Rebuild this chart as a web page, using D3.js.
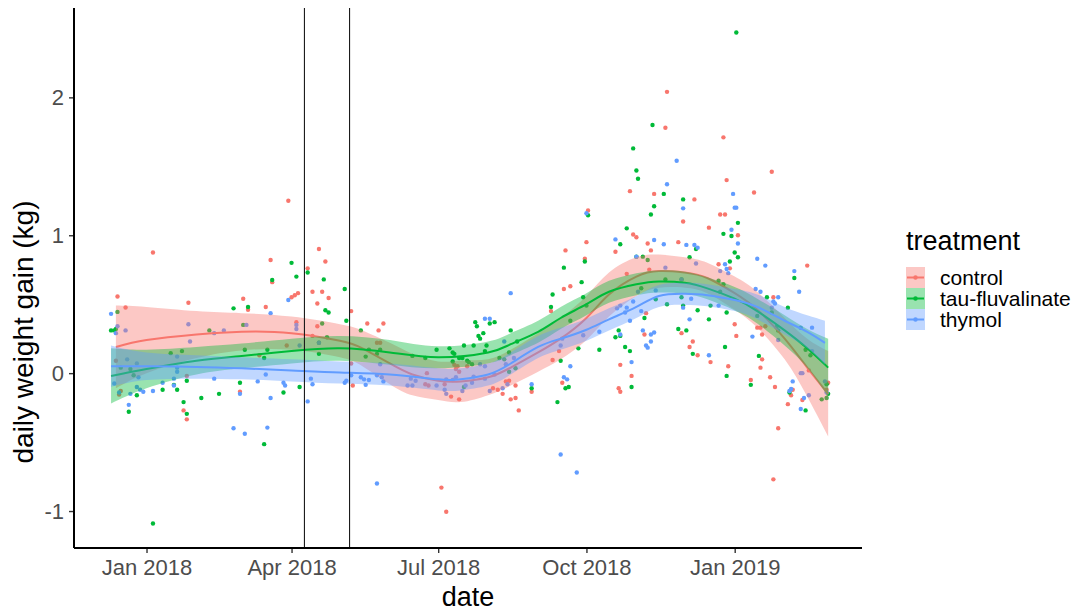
<!DOCTYPE html>
<html>
<head>
<meta charset="utf-8">
<script src="https://cdn.jsdelivr.net/npm/d3@7"></script>
<style>
body { margin: 0; background: #fff; }
text { font-family: "Liberation Sans", Arial, sans-serif; }
</style>
</head>
<body>
<div id="chart"></div>
<script>
// treatments and their ggplot hues
var treatments = ["control", "tau-fluvalinate", "thymol"];
var colors = ["#F8766D", "#00BA38", "#619CFF"];

var tickDates = ["2018-01-01", "2018-04-01", "2018-07-01", "2018-10-01", "2019-01-01"];
var yTicks = [-1, 0, 1, 2];
var vlineDates = ["2018-04-09", "2018-05-07"];

// daily weight gain points [date, kg]
var controlPts = [
["2017-12-14",0.556],["2017-12-19",0.476],["2017-12-13",0.09],["2017-12-15",-0.155],["2017-12-16",-0.13],
["2018-01-05",0.875],["2018-01-27",0.51],["2018-01-26",-0.02],["2018-01-24",-0.27],["2018-01-26",-0.335],
["2018-03-02",0.54],["2018-03-05",0.46],["2018-03-19",0.82],["2018-03-20",0.66],["2018-03-16",0.48],
["2018-04-01",0.55],["2018-04-03",0.565],["2018-04-05",0.58],["2018-03-12",0.13],["2018-03-29",0.2],
["2018-02-28",-0.135],["2018-04-04",0.37],["2018-03-30",1.25],["2018-04-18",0.9],["2018-04-22",0.81],
["2018-04-11",0.76],["2018-04-14",0.59],["2018-04-20",0.59],["2018-04-24",0.545],["2018-04-17",0.505],
["2018-05-08",0.45],["2018-05-18",0.36],["2018-05-28",0.36],["2018-05-25",0.31],["2018-04-17",0.34],
["2018-04-14",0.27],["2018-05-09",-0.09],["2018-05-08",0.07],["2018-05-24",0.22],["2018-05-26",0.22],
["2018-06-24",0.0],["2018-06-23",-0.08],["2018-06-25",-0.09],["2018-07-09",-0.17],["2018-07-14",-0.19],
["2018-07-05",-0.08],["2018-07-12",0.03],["2018-07-14",0.01],["2018-07-11",0.06],["2018-07-13",0.05],
["2018-07-19",0.05],["2018-08-04",-0.11],["2018-08-07",-0.12],["2018-07-03",-0.83],["2018-07-06",-1.005],
["2018-08-15",-0.19],["2018-08-20",-0.27],["2018-10-02",1.18],["2018-10-01",0.95],["2018-10-30",1.005],
["2018-11-01",0.985],["2018-10-19",0.88],["2018-11-08",0.94],["2018-11-10",0.89],["2018-11-27",0.95],
["2018-09-18",0.89],["2018-09-30",0.83],["2018-09-17",0.61],["2018-09-21",0.63],["2018-09-09",0.45],
["2018-11-09",0.75],["2018-10-26",0.72],["2018-11-07",0.435],["2018-11-06",0.28],["2018-09-14",0.16],
["2018-09-10",0.095],["2018-09-16",-0.07],["2018-10-22",0.06],["2018-10-29",-0.02],["2018-10-21",-0.11],
["2018-10-22",-0.135],["2018-08-28",-0.135],["2018-08-18",-0.09],["2018-08-18",-0.18],["2018-08-10",-0.15],
["2018-08-12",-0.06],["2018-08-14",-0.055],["2018-11-20",2.04],["2018-11-19",1.78],["2018-12-25",1.71],
["2019-01-24",1.46],["2018-12-27",1.40],["2018-10-28",1.32],["2018-11-12",1.30],["2019-01-13",1.31],
["2018-12-07",1.26],["2018-12-23",1.15],["2018-12-26",1.15],["2018-11-30",1.1],["2018-12-16",1.055],
["2019-01-03",1.0],["2018-12-22",0.79],["2018-12-29",0.76],["2019-02-15",0.78],["2019-01-25",0.55],
["2019-01-01",0.355],["2019-01-02",0.27],["2019-01-15",0.33],["2019-01-17",0.33],["2019-01-20",0.34],
["2019-01-18",0.28],["2018-11-29",0.29],["2018-12-04",0.19],["2018-12-06",0.23],["2018-12-09",0.13],
["2018-12-17",0.08],["2018-12-28",0.05],["2019-01-18",0.1],["2019-01-17",0.04],["2019-01-23",-0.03],
["2019-01-26",-0.1],["2019-01-11",-0.05],["2019-02-16",0.02],["2019-02-06",-0.12],["2019-02-05",-0.16],
["2019-02-03",-0.225],["2019-02-12",-0.195],["2019-01-28",-0.4],["2019-01-25",-0.77],["2019-02-28",-0.07],
["2019-02-27",-0.12]
];

var tauPts = [
["2017-12-14",0.444],["2017-12-10",0.31],["2017-12-12",0.31],["2017-12-13",0.32],["2017-12-16",0.04],
["2017-12-22",0.03],["2017-12-24",-0.015],["2017-12-26",-0.16],["2017-12-21",-0.28],["2018-01-05",-1.09],
["2018-01-16",0.145],["2018-01-23",0.16],["2018-01-18",-0.085],["2018-01-20",-0.12],["2018-01-11",-0.12],
["2018-01-26",-0.055],["2018-01-24",-0.21],["2018-01-26",-0.295],["2018-02-04",-0.18],["2018-02-09",0.31],
["2018-02-15",-0.15],["2018-02-24",0.47],["2018-02-28",-0.07],["2018-03-02",0.35],["2018-03-03",0.17],
["2018-03-05",0.48],["2018-03-15",0.11],["2018-03-15",-0.515],["2018-03-17",0.17],["2018-03-20",0.676],
["2018-03-27",-0.14],["2018-04-01",0.80],["2018-04-04",0.70],["2018-04-06",-0.1],["2018-04-11",0.73],
["2018-04-21",0.68],["2018-05-04",0.61],["2018-04-22",0.456],["2018-04-24",0.44],["2018-05-05",0.38],
["2018-05-14",0.31],["2018-04-20",0.36],["2018-04-18",0.22],["2018-04-23",0.26],["2018-04-18",0.14],
["2018-05-17",0.12],["2018-05-19",0.17],["2018-05-24",0.14],["2018-05-26",0.17],["2018-06-15",0.125],
["2018-06-23",0.11],["2018-06-30",0.17],["2018-07-08",0.18],["2018-07-10",0.15],["2018-07-11",0.14],
["2018-07-14",0.11],["2018-07-16",0.11],["2018-07-10",0.085],["2018-07-17",0.2],["2018-07-23",0.2],
["2018-07-24",0.37],["2018-07-25",0.34],["2018-07-26",0.27],["2018-07-27",0.25],["2018-07-29",0.29],
["2018-07-31",0.2],["2018-08-02",0.36],["2018-08-05",0.37],["2018-07-19",0.09],["2018-07-20",0.08],
["2018-07-22",0.065],["2018-07-17",-0.1],["2018-07-30",0.16],["2018-08-08",0.11],["2018-08-15",0.31],
["2018-08-19",0.23],["2018-08-14",0.15],["2018-08-14",0.01],["2018-08-18",0.035],["2018-08-11",0.1],
["2018-08-28",-0.11],["2018-09-13",-0.21],["2018-09-09",0.48],["2018-09-10",0.57],["2018-09-17",0.765],
["2018-09-28",0.66],["2018-09-30",0.81],["2018-10-02",1.145],["2018-11-12",1.21],["2018-11-10",1.15],
["2018-10-26",1.05],["2018-10-22",0.935],["2018-11-01",0.845],["2018-11-05",0.845],["2018-11-08",0.82],
["2018-11-19",0.68],["2018-11-04",0.616],["2018-11-13",0.536],["2018-11-20",0.5],["2018-11-27",0.32],
["2018-11-06",0.4],["2018-10-21",0.31],["2018-10-19",0.26],["2018-10-22",0.27],["2018-10-25",0.19],
["2018-10-28",0.16],["2018-10-09",0.17],["2018-09-26",0.18],["2018-09-21",0.38],["2018-09-29",0.55],
["2018-10-01",0.49],["2018-09-15",0.09],["2018-09-18",-0.11],["2018-09-20",-0.1],["2018-10-29",-0.1],
["2019-01-02",2.47],["2018-11-11",1.80],["2018-10-30",1.63],["2018-11-01",1.47],["2018-11-02",1.41],
["2018-11-18",1.30],["2018-11-30",1.26],["2019-01-03",1.09],["2018-12-25",1.01],["2018-12-30",0.995],
["2018-12-08",0.9],["2019-01-01",0.875],["2019-01-03",0.84],["2018-12-04",0.84],["2018-12-29",0.81],
["2019-02-07",0.69],["2019-01-21",0.55],["2019-02-03",0.475],["2019-01-24",0.44],["2018-12-22",0.67],
["2018-12-25",0.645],["2018-12-23",0.59],["2018-11-29",0.55],["2018-11-30",0.49],["2018-11-29",0.68],
["2018-12-17",0.49],["2018-12-09",0.456],["2018-12-27",0.44],["2018-12-16",0.39],["2019-01-28",0.31],
["2019-01-27",0.335],["2019-01-15",0.415],["2018-12-02",0.31],["2018-12-06",0.14],["2018-12-26",0.19],
["2018-12-27",-0.02],["2019-02-14",0.17],["2019-02-17",0.13],["2019-01-16",0.125],["2019-01-11",-0.085],
["2019-02-04",-0.14],["2019-02-14",-0.27],["2019-02-24",-0.19],["2019-02-27",-0.08],["2019-02-28",-0.15],
["2019-02-27",-0.18]
];

var thymolPts = [
["2017-12-10",0.43],["2017-12-13",0.29],["2017-12-14",0.34],["2017-12-19",0.31],["2017-12-26",0.07],
["2017-12-20",0.1],["2017-12-27",-0.03],["2017-12-12",-0.075],["2017-12-15",-0.14],["2017-12-22",-0.15],
["2017-12-26",-0.1],["2017-12-28",-0.12],["2017-12-30",-0.135],["2017-12-21",-0.23],["2018-01-27",0.355],
["2018-01-28",0.23],["2018-02-12",0.29],["2018-02-18",0.31],["2018-03-04",0.35],["2018-03-19",0.435],
["2018-03-30",0.53],["2018-03-16",-0.01],["2018-03-11",-0.06],["2018-03-27",-0.07],["2018-03-28",-0.09],
["2018-02-28",-0.15],["2018-03-19",-0.18],["2018-02-12",-0.04],["2018-01-20",0.01],["2018-01-18",-0.04],
["2018-01-18",-0.09],["2018-01-11",-0.07],["2018-01-05",-0.13],["2018-01-20",0.12],["2018-01-20",0.04],
["2018-02-24",-0.40],["2018-03-03",-0.44],["2018-03-17",-0.395],["2018-04-06",0.2],["2018-04-04",0.35],
["2018-04-04",0.32],["2018-04-11",-0.205],["2018-05-24",-0.80],["2018-04-18",0.22],["2018-04-13",-0.04],
["2018-04-14",-0.08],["2018-05-04",-0.07],["2018-05-05",-0.055],["2018-05-08",-0.015],["2018-05-14",-0.03],
["2018-05-16",-0.045],["2018-05-19",-0.05],["2018-05-17",-0.085],["2018-05-24",-0.015],["2018-05-27",-0.03],
["2018-05-28",-0.06],["2018-05-26",0.065],["2018-06-12",-0.09],["2018-06-15",-0.09],["2018-06-17",-0.055],
["2018-06-14",-0.04],["2018-06-30",-0.09],["2018-07-05",-0.12],["2018-07-06",-0.15],["2018-07-06",-0.045],
["2018-07-10",-0.05],["2018-07-12",-0.03],["2018-07-30",0.395],["2018-08-02",0.395],["2018-07-18",-0.09],
["2018-07-16",-0.13],["2018-07-23",-0.025],["2018-07-22",-0.07],["2018-07-27",0.065],["2018-07-30",0.05],
["2018-08-05",-0.01],["2018-08-02",-0.13],["2018-07-30",-0.04],["2018-10-01",1.16],["2018-10-19",0.97],
["2018-11-12",0.966],["2018-11-18",0.935],["2018-08-15",0.58],["2018-11-01",0.845],["2018-11-19",0.765],
["2018-11-02",0.59],["2018-10-30",0.52],["2018-10-22",0.49],["2018-10-20",0.47],["2018-10-25",0.44],
["2018-10-26",0.475],["2018-11-04",0.45],["2018-11-13",0.6],["2018-10-28",0.38],["2018-10-09",0.3],
["2018-10-22",0.28],["2018-11-05",0.31],["2018-11-10",0.28],["2018-11-12",0.295],["2018-11-10",0.23],
["2018-11-07",0.2],["2018-11-08",0.185],["2018-09-16",0.25],["2018-09-15",0.2],["2018-09-29",0.275],
["2018-09-21",0.05],["2018-09-17",-0.03],["2018-09-19",-0.045],["2018-10-29",0.08],["2018-08-28",-0.08],
["2018-08-13",-0.08],["2018-08-10",-0.11],["2018-08-11",0.23],["2018-08-12",0.065],["2018-08-17",0.11],
["2018-09-15",-0.59],["2018-09-25",-0.72],["2018-11-26",1.54],["2018-12-31",1.30],["2018-11-30",1.195],
["2019-01-02",1.2],["2018-11-20",1.37],["2019-01-01",1.2],["2018-12-30",1.04],["2019-01-03",0.94],
["2018-12-02",0.93],["2018-12-07",0.93],["2018-12-09",0.91],["2018-12-08",0.795],["2018-12-26",0.79],
["2018-12-27",0.755],["2018-12-28",0.725],["2018-12-23",0.74],["2019-01-15",0.83],["2019-01-20",0.78],
["2019-02-07",0.74],["2019-02-10",0.59],["2019-01-14",0.61],["2019-01-17",0.59],["2019-01-25",0.52],
["2019-01-28",0.55],["2019-01-26",0.505],["2019-01-24",0.475],["2018-12-05",0.54],["2018-11-30",0.475],
["2018-12-22",0.49],["2018-12-04",0.39],["2018-12-16",0.13],["2019-01-12",0.265],["2019-01-28",0.24],
["2019-02-11",0.33],["2019-02-18",0.33],["2019-02-18",0.16],["2019-02-11",0.0],["2019-02-12",0.0],
["2019-02-06",-0.06],["2019-02-05",-0.115],["2019-02-04",-0.13],["2019-02-13",-0.18],["2019-02-11",-0.26],
["2019-02-16",-0.16],["2019-02-26",-0.06],["2019-02-27",-0.14],["2018-11-29",0.68]
];

// loess fits [date, fit, half width of the 95% band]
var controlFit = [
["2017-12-13",0.19,0.30],["2018-01-01",0.24,0.24],["2018-02-01",0.28,0.17],["2018-03-01",0.30,0.135],
["2018-04-01",0.29,0.12],["2018-05-01",0.235,0.12],["2018-05-15",0.18,0.13],["2018-06-01",0.07,0.15],
["2018-06-15",-0.01,0.15],["2018-07-01",-0.055,0.14],["2018-07-15",-0.06,0.15],["2018-08-01",-0.03,0.13],
["2018-08-15",0.04,0.13],["2018-09-01",0.15,0.14],["2018-09-15",0.25,0.15],["2018-10-01",0.40,0.16],
["2018-10-15",0.57,0.16],["2018-11-01",0.70,0.14],["2018-11-15",0.74,0.12],["2018-12-01",0.73,0.11],
["2018-12-15",0.69,0.11],["2019-01-01",0.58,0.12],["2019-01-15",0.46,0.13],["2019-02-01",0.25,0.15],
["2019-02-15",0.04,0.21],["2019-02-28",-0.15,0.31]
];
var tauFit = [
["2017-12-10",-0.02,0.2],["2018-01-01",0.03,0.14],["2018-02-01",0.09,0.1],["2018-03-01",0.125,0.09],
["2018-04-01",0.16,0.09],["2018-05-01",0.18,0.09],["2018-06-01",0.15,0.09],["2018-07-01",0.115,0.08],
["2018-08-01",0.15,0.08],["2018-08-15",0.21,0.08],["2018-09-01",0.30,0.08],["2018-09-15",0.40,0.08],
["2018-10-01",0.50,0.08],["2018-10-15",0.59,0.08],["2018-11-01",0.645,0.08],["2018-11-15",0.665,0.08],
["2018-12-01",0.655,0.08],["2018-12-15",0.615,0.08],["2019-01-01",0.54,0.085],["2019-01-15",0.45,0.09],
["2019-02-01",0.31,0.11],["2019-02-15",0.18,0.14],["2019-02-28",0.04,0.21]
];
var thymolFit = [
["2017-12-10",0.05,0.15],["2018-01-01",0.05,0.1],["2018-02-01",0.045,0.085],["2018-03-01",0.035,0.08],
["2018-04-01",0.02,0.08],["2018-05-01",0.005,0.08],["2018-06-01",-0.01,0.08],["2018-07-01",-0.045,0.08],
["2018-07-15",-0.045,0.08],["2018-08-01",-0.01,0.08],["2018-08-15",0.07,0.08],["2018-09-01",0.19,0.08],
["2018-09-15",0.25,0.08],["2018-10-01",0.315,0.08],["2018-10-15",0.39,0.08],["2018-11-01",0.48,0.08],
["2018-11-15",0.56,0.08],["2018-12-01",0.575,0.08],["2018-12-15",0.565,0.08],["2019-01-01",0.53,0.08],
["2019-01-15",0.48,0.09],["2019-02-01",0.38,0.1],["2019-02-15",0.30,0.12],["2019-02-26",0.22,0.16]
];

var allPts = [controlPts, tauPts, thymolPts];
var allFits = [controlFit, tauFit, thymolFit];

var w = 1087, h = 614;
var panelLeft = 74, panelRight = 862, panelTop = 8, panelBottom = 548;

var svg = d3.select("#chart").append("svg").attr("width", w).attr("height", h);
var parse = d3.utcParse("%Y-%m-%d");

var xScale = d3.scaleUtc().domain([parse("2017-11-17"), parse("2019-03-21")]).range([panelLeft, panelRight]);
var yScale = d3.scaleLinear().domain([-1.268, 2.648]).range([panelBottom, panelTop]);

// points first, smooths drawn over them like ggplot does
allPts.forEach(function(pts, i) {
  svg.append("g").selectAll("circle")
    .data(pts)
    .enter()
    .append("circle")
    .attr("cx", function(d) { return xScale(parse(d[0])); })
    .attr("cy", function(d) { return yScale(d[1]); })
    .attr("r", 2.2)
    .attr("fill", colors[i]);
});

var band = d3.area()
  .x(function(d) { return xScale(parse(d[0])); })
  .y0(function(d) { return yScale(d[1] - d[2]); })
  .y1(function(d) { return yScale(d[1] + d[2]); })
  .curve(d3.curveNatural);

var fitLine = d3.line()
  .x(function(d) { return xScale(parse(d[0])); })
  .y(function(d) { return yScale(d[1]); })
  .curve(d3.curveNatural);

allFits.forEach(function(fit, i) {
  svg.append("path").attr("d", band(fit))
    .attr("fill", colors[i]).attr("fill-opacity", 0.4).attr("stroke", "none");
  svg.append("path").attr("d", fitLine(fit))
    .attr("fill", "none").attr("stroke", colors[i]).attr("stroke-width", 2);
});

// vertical marker lines
svg.selectAll("line.vline")
  .data(vlineDates)
  .enter()
  .append("line")
  .attr("class", "vline")
  .attr("x1", function(d) { return xScale(parse(d)); })
  .attr("x2", function(d) { return xScale(parse(d)); })
  .attr("y1", panelTop)
  .attr("y2", panelBottom)
  .attr("stroke", "#1a1a1a")
  .attr("stroke-width", 1.1);

// axes
var xAxis = d3.axisBottom(xScale)
  .tickValues(tickDates.map(parse))
  .tickFormat(d3.utcFormat("%b %Y"))
  .tickSize(5)
  .tickPadding(6);
var gx = svg.append("g").attr("transform", "translate(0," + panelBottom + ")").call(xAxis);

var yAxis = d3.axisLeft(yScale)
  .tickValues(yTicks)
  .tickFormat(function(d) { return d < 0 ? "-" + Math.abs(d) : String(d); })
  .tickSize(5)
  .tickPadding(5);
var gy = svg.append("g").attr("transform", "translate(" + panelLeft + ",0)").call(yAxis);

[gx, gy].forEach(function(g) {
  g.select(".domain").remove();
  g.selectAll(".tick line").attr("stroke", "#333333").attr("stroke-width", 1.4);
  g.selectAll(".tick text").attr("fill", "#4D4D4D").attr("font-size", "22px")
    .attr("font-family", "Liberation Sans, Arial, sans-serif");
});

svg.append("line").attr("x1", panelLeft).attr("x2", panelRight).attr("y1", panelBottom).attr("y2", panelBottom)
  .attr("stroke", "black").attr("stroke-width", 2);
svg.append("line").attr("x1", panelLeft).attr("x2", panelLeft).attr("y1", panelTop).attr("y2", panelBottom)
  .attr("stroke", "black").attr("stroke-width", 2);

// axis titles
svg.append("text")
  .text("date")
  .attr("x", (panelLeft + panelRight) / 2)
  .attr("y", 606)
  .attr("text-anchor", "middle")
  .attr("font-size", "27px")
  .attr("fill", "black");

svg.append("text")
  .text("daily weight gain (kg)")
  .attr("transform", "translate(33,332) rotate(-90)")
  .attr("text-anchor", "middle")
  .attr("font-size", "28px")
  .attr("fill", "black");

// legend
var legend = svg.append("g").attr("transform", "translate(906,0)");
legend.append("text").text("treatment")
  .attr("x", 0).attr("y", 250)
  .attr("font-size", "27px").attr("fill", "black");

var keyH = 21, keyW = 19, keyTop = 267;
treatments.forEach(function(t, i) {
  var ky = keyTop + i * keyH;
  legend.append("rect").attr("x", 0).attr("y", ky).attr("width", keyW).attr("height", keyH)
    .attr("fill", colors[i]).attr("fill-opacity", 0.4);
  legend.append("line").attr("x1", 1).attr("x2", keyW - 1).attr("y1", ky + keyH / 2).attr("y2", ky + keyH / 2)
    .attr("stroke", colors[i]).attr("stroke-width", 2);
  legend.append("circle").attr("cx", keyW / 2).attr("cy", ky + keyH / 2).attr("r", 2.2)
    .attr("fill", colors[i]);
  legend.append("text").text(t)
    .attr("x", 34).attr("y", ky + keyH / 2)
    .attr("dy", "0.35em")
    .attr("font-size", "21px").attr("fill", "black");
});
</script>
</body>
</html>
